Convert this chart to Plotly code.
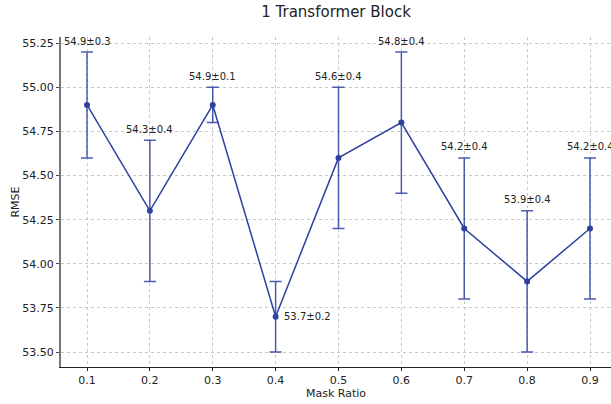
import plotly.graph_objects as go

mask_ratio = [0.1, 0.2, 0.3, 0.4, 0.5, 0.6, 0.7, 0.8, 0.9]
rmse_mean = [54.9, 54.3, 54.9, 53.7, 54.6, 54.8, 54.2, 53.9, 54.2]
rmse_std = [0.3, 0.4, 0.1, 0.2, 0.4, 0.4, 0.4, 0.4, 0.4]
x_ticks = [0.1, 0.2, 0.3, 0.4, 0.5, 0.6, 0.7, 0.8, 0.9]
y_ticks = [53.50, 53.75, 54.00, 54.25, 54.50, 54.75, 55.00, 55.25]

blue = "#2e40a0"
fig = go.Figure()
fig.add_trace(go.Scatter(
    x=mask_ratio, y=rmse_mean, mode="lines+markers",
    line=dict(color=blue, width=1.5),
    marker=dict(color=blue, size=6),
    error_y=dict(type="data", array=rmse_std, visible=True,
                 color="rgba(46,64,160,0.85)", thickness=1.5, width=6),
    showlegend=False,
))

for x, m, s in zip(mask_ratio, rmse_mean, rmse_std):
    label = f"{m:.1f}±{s:.1f}"
    if x == 0.4:
        fig.add_annotation(x=x, y=m, text=label, showarrow=False,
                           xanchor="left", yanchor="middle", xshift=6,
                           font=dict(family="DejaVu Sans", size=10, color="#222"))
    else:
        fig.add_annotation(x=x, y=m + s, text=label, showarrow=False,
                           xanchor="center", yanchor="middle", yshift=11,
                           font=dict(family="DejaVu Sans", size=10, color="#222"))

fig.update_layout(
    width=611, height=404,
    margin=dict(l=61, r=0, t=37, b=37),
    paper_bgcolor="white", plot_bgcolor="white",
    font=dict(family="DejaVu Sans", size=11, color="#222"),
    title=dict(text="1 Transformer Block", x=0.55, xanchor="center",
               y=0.97, yanchor="middle",
               font=dict(family="DejaVu Sans", size=15, color="#222")),
)
fig.update_xaxes(
    range=[0.05865, 0.9334], tickvals=x_ticks, ticktext=[f"{v:.1f}" for v in x_ticks],
    title=dict(text="Mask Ratio", standoff=1, font=dict(size=11)),
    showgrid=True, gridcolor="#c8c8c8", griddash="dot", gridwidth=1,
    showline=True, linecolor="#222", linewidth=1.2,
    ticks="outside", ticklen=3, tickcolor="#222", zeroline=False,
)
fig.update_yaxes(
    range=[53.415, 55.285], tickvals=y_ticks, ticktext=[f"{v:.2f}" for v in y_ticks],
    title=dict(text="RMSE", standoff=0, font=dict(size=11)),
    showgrid=True, gridcolor="#c8c8c8", griddash="dot", gridwidth=1,
    showline=True, linecolor="#777", linewidth=2,
    ticks="outside", ticklen=3, tickcolor="#444", zeroline=False,
)
fig.write_html("out.html")
